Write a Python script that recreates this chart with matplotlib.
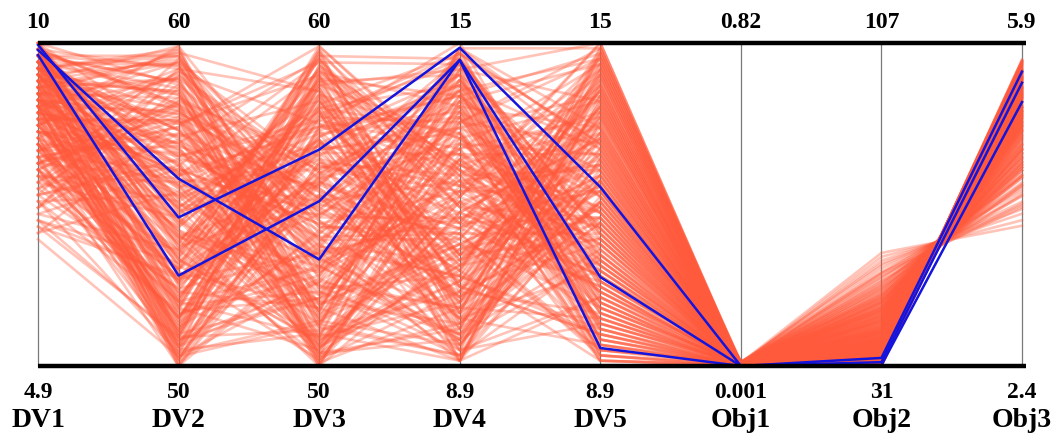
"""Parallel coordinates plot of design variables and objectives."""
import numpy as np, matplotlib
matplotlib.use('Agg')
import matplotlib.pyplot as plt

# axis names and their range labels (bottom = min, top = max)
axis_names = ['DV1', 'DV2', 'DV3', 'DV4', 'DV5', 'Obj1', 'Obj2', 'Obj3']
axis_min = [4.9, 50, 50, 8.9, 8.9, 0.001, 31, 2.4]
axis_max = [10, 60, 60, 15, 15, 0.82, 107, 5.9]
min_labels = ['4.9', '50', '50', '8.9', '8.9', '0.001', '31', '2.4']
max_labels = ['10', '60', '60', '15', '15', '0.82', '107', '5.9']

# all solutions (red)
dv1 = [9.6, 8.4, 9.9, 7.8, 9.2, 8.9, 9.7, 8.1, 9.4, 10.0, 8.6, 9.1,
       7.3, 9.8, 8.8, 9.5, 8.3, 9.0, 9.9, 7.6, 9.3, 8.7, 9.6, 8.0,
       9.7, 8.5, 9.2, 10.0, 7.9, 9.4, 8.9, 9.8, 8.2, 9.1, 7.0, 9.5,
       8.6, 9.9, 9.3, 8.4, 7.5, 9.7, 9.0, 8.8, 9.6, 8.1, 10.0, 9.2,
       9.4, 7.7, 9.8, 8.5, 9.1, 9.9, 8.3, 9.5, 8.0, 9.7, 6.9, 9.3,
       8.7, 9.6, 9.0, 8.2, 9.8, 7.4, 9.4, 8.9, 10.0, 8.6, 9.2, 9.7,
       9.1, 8.4, 9.9, 7.8, 9.5, 8.8, 9.3, 8.1, 9.6, 7.2, 9.8, 8.5,
       9.0, 9.7, 8.3, 9.4, 7.6, 9.9, 8.7, 9.2, 8.0, 9.6, 9.1, 8.9,
       9.8, 8.2, 9.5, 7.1, 9.3, 8.6, 10.0, 9.0, 8.4, 9.7, 7.9, 9.4,
       8.8, 9.6, 9.1, 8.3, 9.9, 7.5, 9.2, 8.7, 9.5, 8.1, 9.8, 9.0,
       9.5, 9.9, 8.2, 9.3, 7.7, 9.8, 8.6, 9.1, 9.6, 8.0, 9.4, 9.7,
       8.9, 7.2, 9.2, 9.9, 8.4, 9.6, 8.7, 9.0, 7.9, 9.5, 9.8, 8.3,
       9.1, 8.8, 10.0, 7.4, 9.3, 8.5, 9.7, 9.0, 8.1, 9.6, 8.9, 9.4,
       7.8, 9.9, 9.2, 8.6, 9.5, 8.0, 9.8, 7.0, 9.1, 8.7, 9.6, 9.3,
       8.4, 9.7, 7.6, 9.0, 9.9, 8.2, 9.4, 8.8, 10.0, 8.5, 9.2, 7.3,
       9.6, 8.9, 9.1, 9.8, 8.3, 7.9, 9.5, 9.0, 8.6, 9.7, 8.0, 9.3,
       9.9, 7.5, 9.2, 8.7, 9.6, 8.4, 9.0, 9.8, 7.1, 9.4, 8.8, 9.1,
       8.1, 9.7, 9.3, 7.7, 9.5, 8.5, 9.9, 8.9, 9.2, 8.2, 9.6, 7.4,
       9.0, 9.8, 8.6, 9.4, 8.0, 9.7, 7.8, 9.1, 8.8, 9.5, 9.9, 8.3,
       7.6, 9.3, 8.7, 9.6, 9.0, 8.4, 9.8, 7.2, 9.2, 8.9, 9.5, 8.1]
dv2 = [57.3, 51.8, 59.2, 54.6, 50.4, 56.9, 53.1, 58.7, 52.5, 55.0, 50.9, 57.8,
       53.6, 59.6, 51.2, 55.9, 58.1, 50.2, 54.0, 56.4, 52.0, 59.0, 53.9, 51.5,
       58.4, 55.3, 50.7, 57.0, 52.8, 54.9, 59.8, 51.0, 56.1, 53.4, 57.6, 50.5,
       55.6, 52.2, 58.9, 54.3, 51.7, 56.7, 59.4, 53.0, 50.1, 57.4, 54.8, 52.9,
       51.4, 58.2, 55.2, 50.8, 56.3, 53.7, 59.1, 52.3, 57.9, 54.4, 50.3, 55.7,
       59.9, 53.3, 51.1, 57.2, 54.1, 58.6, 52.6, 56.0, 50.6, 55.4, 53.8, 59.3,
       52.1, 56.6, 58.0, 51.6, 54.7, 57.5, 50.0, 55.8, 59.7, 53.2, 56.8, 51.3,
       54.2, 50.6, 57.7, 59.5, 52.4, 55.1, 51.9, 58.3, 53.5, 56.2, 50.2, 57.1,
       58.8, 52.7, 54.5, 50.9, 59.6, 56.5, 51.8, 55.5, 53.0, 57.3, 52.0, 58.5,
       55.9, 51.0, 56.9, 53.6, 58.1, 50.4, 54.9, 59.2, 52.6, 57.6, 51.5, 54.0,
       54.3, 58.1, 50.7, 56.2, 52.4, 59.3, 51.1, 55.6, 57.9, 53.0, 50.2, 58.6,
       56.0, 52.7, 59.7, 54.9, 51.5, 57.3, 53.8, 50.5, 55.1, 58.4, 52.0, 56.8,
       50.9, 57.6, 54.5, 59.0, 53.3, 51.7, 56.5, 58.9, 52.3, 55.8, 50.1, 57.1,
       59.5, 53.6, 51.3, 56.3, 54.0, 58.2, 50.8, 55.4, 57.7, 52.6, 59.8, 53.9,
       52.9, 56.6, 59.2, 51.0, 55.0, 57.4, 53.1, 50.4, 58.7, 54.6, 51.9, 56.1,
       57.5, 50.0, 54.2, 58.8, 52.1, 55.7, 59.4, 51.4, 56.9, 53.5, 50.6, 58.0,
       51.6, 55.3, 57.8, 53.2, 59.6, 50.3, 54.7, 56.4, 52.8, 58.5, 51.2, 55.9,
       58.3, 52.5, 50.9, 57.0, 54.1, 59.1, 53.7, 51.8, 56.7, 50.0, 55.2, 57.2,
       50.6, 56.0, 53.4, 59.9, 51.5, 54.8, 58.1, 52.2, 57.6, 55.5, 50.3, 53.0,
       56.2, 59.4, 52.7, 54.4, 57.9, 51.1, 55.6, 50.8, 58.9, 53.3, 56.5, 52.0]
dv3 = [52.9, 58.3, 55.1, 50.6, 57.7, 53.4, 59.5, 51.2, 56.0, 54.7, 58.9, 50.3,
       56.5, 51.9, 53.8, 59.1, 50.8, 57.4, 52.2, 55.6, 58.6, 54.1, 50.1, 56.9,
       51.4, 57.2, 59.8, 53.0, 55.3, 50.5, 52.7, 58.0, 54.4, 56.7, 51.1, 59.3,
       50.9, 55.9, 52.4, 57.9, 59.6, 54.0, 51.6, 58.4, 56.2, 53.3, 57.0, 50.2,
       59.0, 53.7, 56.8, 52.1, 50.4, 55.0, 57.5, 51.8, 54.8, 58.8, 52.6, 56.1,
       54.5, 50.7, 58.1, 55.4, 53.1, 51.5, 59.9, 57.3, 55.7, 52.0, 59.2, 53.9,
       57.8, 54.2, 50.0, 52.8, 56.4, 59.4, 53.6, 51.0, 58.5, 56.6, 50.6, 55.2,
       51.3, 58.7, 55.5, 53.2, 57.1, 50.8, 52.3, 54.6, 59.7, 51.7, 56.3, 58.2,
       53.5, 56.9, 51.9, 59.0, 54.3, 57.6, 50.5, 52.5, 55.8, 53.7, 58.9, 50.1,
       57.4, 52.1, 59.5, 50.3, 55.2, 51.4, 57.9, 54.7, 56.0, 53.1, 58.4, 55.6,
       58.0, 51.3, 55.7, 59.4, 53.5, 50.2, 57.1, 52.6, 54.9, 59.8, 56.3, 51.7,
       50.6, 56.4, 53.0, 58.2, 55.8, 52.4, 59.1, 51.0, 57.6, 54.3, 50.9, 55.5,
       57.3, 53.9, 50.4, 56.0, 59.6, 52.1, 54.6, 51.2, 58.7, 55.1, 53.7, 50.0,
       55.4, 59.2, 57.7, 50.7, 52.9, 56.5, 54.1, 51.5, 53.2, 58.9, 50.3, 57.0,
       51.8, 54.8, 58.5, 56.9, 53.3, 59.9, 50.8, 57.4, 55.0, 52.0, 58.3, 54.4,
       59.0, 55.9, 52.5, 50.1, 56.7, 54.0, 51.4, 58.8, 53.6, 57.5, 52.7, 55.2,
       53.1, 50.5, 56.1, 57.8, 51.6, 55.6, 58.1, 52.2, 54.7, 50.9, 59.3, 56.8,
       56.2, 58.6, 51.1, 54.5, 50.0, 53.4, 57.9, 59.7, 52.8, 55.3, 58.4, 51.9,
       54.2, 52.3, 59.5, 50.6, 57.2, 55.7, 53.8, 56.6, 50.4, 58.0, 51.3, 57.0,
       50.2, 56.0, 53.5, 58.7, 51.7, 59.1, 54.9, 52.6, 55.8, 50.9, 57.4, 53.0]
dv4 = [12.6, 9.4, 14.1, 10.8, 13.5, 9.1, 11.7, 14.8, 10.2, 13.0, 12.1, 9.7,
       14.4, 11.2, 9.0, 13.8, 10.5, 12.9, 14.9, 11.5, 9.8, 13.2, 10.0, 12.3,
       9.3, 13.6, 11.9, 14.6, 10.7, 12.0, 9.5, 14.2, 11.1, 13.3, 10.3, 12.7,
       13.9, 10.1, 12.5, 9.2, 14.7, 11.4, 13.1, 9.9, 12.2, 14.0, 10.6, 11.8,
       11.0, 14.5, 9.6, 12.8, 10.9, 13.7, 11.6, 9.0, 14.3, 10.4, 12.4, 13.4,
       10.2, 12.0, 14.8, 11.3, 9.4, 13.5, 12.6, 10.8, 14.1, 9.7, 11.9, 13.0,
       14.6, 9.8, 11.1, 13.8, 12.3, 10.0, 14.9, 11.5, 9.3, 12.9, 10.5, 13.6,
       9.1, 13.2, 10.7, 12.1, 14.4, 11.7, 9.5, 13.9, 10.3, 14.2, 12.5, 11.0,
       12.8, 10.1, 13.3, 9.6, 11.4, 14.7, 12.2, 9.2, 13.1, 10.6, 14.0, 11.8,
       13.7, 11.2, 9.9, 14.5, 10.4, 12.7, 9.0, 13.4, 11.6, 12.4, 10.9, 14.3,
       10.5, 13.9, 11.2, 14.6, 9.4, 12.1, 14.2, 10.0, 13.3, 9.7, 11.8, 14.9,
       12.7, 9.2, 13.6, 11.0, 14.4, 10.6, 12.3, 9.0, 13.0, 11.5, 14.7, 10.2,
       14.0, 11.3, 9.6, 12.9, 10.4, 13.8, 11.7, 9.1, 14.5, 12.4, 10.9, 13.2,
       9.8, 12.6, 14.8, 10.7, 12.0, 9.3, 13.5, 11.1, 14.3, 10.1, 12.8, 9.5,
       13.7, 10.3, 11.6, 14.1, 9.9, 12.5, 10.8, 15.0, 11.4, 13.1, 9.0, 12.2,
       11.9, 14.7, 10.0, 12.9, 13.4, 9.2, 11.0, 14.4, 10.6, 12.6, 14.0, 9.8,
       9.5, 12.3, 13.8, 10.9, 11.2, 14.6, 9.7, 13.0, 11.6, 10.1, 12.7, 14.2,
       12.0, 10.4, 14.9, 9.3, 13.5, 11.8, 10.7, 12.4, 14.5, 9.6, 13.2, 11.3,
       14.1, 9.1, 12.1, 13.6, 10.2, 11.5, 14.8, 10.8, 9.4, 13.3, 12.8, 11.0,
       10.3, 13.9, 11.7, 9.9, 14.3, 12.5, 10.5, 13.7, 9.0, 11.4, 14.0, 12.2]
dv5 = [10.9, 13.6, 9.3, 12.2, 14.7, 11.0, 9.8, 13.1, 12.7, 10.3, 14.2, 11.6,
       9.1, 12.5, 14.0, 10.6, 13.3, 11.9, 9.6, 14.6, 12.0, 10.1, 13.8, 11.3,
       13.0, 9.9, 11.7, 10.4, 14.9, 12.8, 13.5, 9.4, 12.3, 10.8, 14.3, 11.1,
       12.6, 14.4, 10.0, 13.7, 11.4, 9.2, 12.9, 14.8, 10.7, 11.8, 9.5, 13.2,
       14.1, 10.5, 13.9, 11.2, 12.4, 9.7, 14.5, 12.1, 10.2, 13.4, 11.5, 9.0,
       11.9, 9.3, 12.8, 14.0, 10.9, 13.1, 9.8, 11.3, 14.7, 12.6, 10.6, 13.6,
       10.1, 14.2, 11.7, 9.6, 13.3, 12.0, 14.9, 10.4, 12.4, 9.1, 13.8, 11.0,
       13.5, 11.6, 14.4, 10.8, 9.4, 12.2, 11.1, 14.6, 9.9, 13.0, 10.3, 12.9,
       9.2, 12.5, 10.0, 13.9, 14.1, 11.4, 12.7, 9.7, 11.8, 14.8, 10.7, 13.2,
       12.3, 10.5, 14.5, 9.5, 11.2, 13.4, 10.2, 12.1, 14.3, 9.0, 13.7, 11.5,
       14.0, 9.6, 12.5, 10.2, 13.3, 15.0, 11.0, 12.9, 9.2, 14.4, 10.7, 13.0,
       11.5, 14.8, 9.9, 12.3, 10.4, 13.6, 11.8, 14.2, 9.0, 12.7, 10.9, 14.6,
       12.1, 10.0, 14.9, 11.2, 9.5, 13.4, 10.6, 12.8, 15.0, 9.8, 11.6, 13.9,
       9.3, 11.9, 13.1, 14.7, 10.3, 12.4, 9.7, 14.1, 11.3, 13.7, 10.8, 12.0,
       10.1, 13.2, 11.7, 9.4, 14.5, 12.6, 13.8, 10.5, 9.1, 11.4, 14.3, 12.2,
       13.5, 11.1, 9.8, 12.9, 14.0, 10.2, 13.3, 12.1, 9.6, 11.0, 14.8, 10.7,
       12.5, 14.4, 10.0, 13.0, 9.2, 11.5, 12.3, 14.6, 10.4, 13.6, 11.8, 9.9,
       11.2, 9.5, 13.4, 12.8, 14.9, 10.6, 9.0, 12.7, 13.9, 11.6, 10.9, 14.2,
       9.7, 12.0, 14.7, 10.3, 11.9, 13.1, 10.8, 14.1, 12.4, 9.3, 13.7, 11.3,
       13.8, 10.1, 12.6, 11.7, 9.4, 14.5, 12.2, 10.5, 13.2, 11.4, 9.1, 15.0]
obj1 = [0.002, 0.006, 0.001, 0.009, 0.003, 0.012, 0.004, 0.001, 0.007, 0.002, 0.010, 0.005,
        0.001, 0.008, 0.003, 0.011, 0.002, 0.006, 0.001, 0.004, 0.009, 0.002, 0.013, 0.003,
        0.005, 0.001, 0.007, 0.002, 0.010, 0.004, 0.001, 0.008, 0.003, 0.006, 0.002, 0.011,
        0.004, 0.001, 0.009, 0.002, 0.005, 0.012, 0.003, 0.001, 0.007, 0.004, 0.002, 0.010,
        0.001, 0.006, 0.003, 0.008, 0.002, 0.005, 0.001, 0.011, 0.004, 0.002, 0.007, 0.003,
        0.009, 0.001, 0.005, 0.002, 0.012, 0.003, 0.006, 0.001, 0.004, 0.008, 0.002, 0.010,
        0.003, 0.007, 0.001, 0.005, 0.002, 0.009, 0.004, 0.001, 0.011, 0.003, 0.006, 0.002,
        0.008, 0.001, 0.004, 0.010, 0.002, 0.005, 0.003, 0.001, 0.007, 0.002, 0.012, 0.004,
        0.001, 0.006, 0.003, 0.009, 0.002, 0.005, 0.001, 0.008, 0.004, 0.002, 0.010, 0.003,
        0.006, 0.001, 0.011, 0.002, 0.004, 0.007, 0.001, 0.003, 0.009, 0.002, 0.005, 0.001,
        0.004, 0.001, 0.008, 0.002, 0.011, 0.003, 0.006, 0.001, 0.009, 0.005, 0.002, 0.013,
        0.003, 0.007, 0.001, 0.010, 0.004, 0.002, 0.008, 0.001, 0.006, 0.012, 0.003, 0.005,
        0.001, 0.009, 0.002, 0.007, 0.004, 0.011, 0.001, 0.003, 0.006, 0.002, 0.010, 0.004,
        0.008, 0.002, 0.005, 0.001, 0.012, 0.003, 0.007, 0.002, 0.009, 0.001, 0.004, 0.006,
        0.002, 0.010, 0.001, 0.005, 0.003, 0.008, 0.002, 0.011, 0.001, 0.006, 0.004, 0.009,
        0.001, 0.003, 0.007, 0.002, 0.005, 0.012, 0.001, 0.004, 0.008, 0.002, 0.006, 0.003,
        0.010, 0.002, 0.005, 0.001, 0.009, 0.004, 0.007, 0.002, 0.003, 0.011, 0.001, 0.006,
        0.002, 0.008, 0.004, 0.001, 0.005, 0.010, 0.003, 0.007, 0.001, 0.004, 0.002, 0.009,
        0.006, 0.001, 0.012, 0.003, 0.005, 0.002, 0.008, 0.001, 0.004, 0.007, 0.003, 0.010,
        0.002, 0.005, 0.001, 0.009, 0.003, 0.006, 0.002, 0.011, 0.004, 0.001, 0.008, 0.003]
obj2 = [32.4, 38.7, 34.1, 44.6, 31.5, 41.3, 36.2, 47.9, 33.0, 39.8, 31.9, 43.2,
        35.5, 52.7, 37.4, 31.2, 42.0, 34.8, 45.9, 32.7, 40.5, 36.9, 49.6, 33.6,
        38.1, 31.6, 44.0, 35.0, 41.8, 32.1, 46.8, 37.9, 34.3, 55.8, 39.2, 31.3,
        42.9, 36.0, 48.4, 33.3, 40.1, 35.8, 44.9, 31.8, 38.4, 32.9, 50.8, 37.0,
        34.6, 43.7, 31.4, 39.5, 36.5, 46.2, 33.1, 41.0, 35.2, 53.9, 38.0, 32.0,
        42.5, 34.0, 47.3, 36.7, 31.1, 40.8, 33.8, 45.4, 37.6, 32.5, 43.9, 35.3,
        51.5, 39.0, 31.7, 41.6, 34.4, 48.9, 36.3, 32.8, 44.3, 37.2, 56.7, 38.9,
        31.0, 42.2, 35.6, 46.5, 33.4, 40.3, 36.8, 50.1, 32.2, 39.7, 34.9, 45.0,
        31.5, 43.4, 37.7, 54.6, 33.7, 41.4, 35.9, 47.6, 32.3, 38.6, 31.2, 44.1,
        36.1, 49.2, 33.5, 40.7, 34.7, 52.2, 37.3, 31.9, 42.7, 35.1, 46.0, 39.3,
        33.9, 37.8, 31.4, 42.4, 35.7, 46.1, 32.6, 39.4, 34.5, 44.8, 31.8, 38.2,
        36.6, 49.9, 33.2, 41.1, 35.4, 31.3, 43.5, 37.1, 32.0, 47.7, 34.2, 40.2,
        36.4, 31.6, 45.7, 38.8, 33.5, 53.1, 35.1, 42.8, 32.4, 39.9, 31.2, 44.2,
        36.9, 34.0, 48.6, 37.5, 31.9, 41.9, 35.9, 33.0, 45.3, 38.5, 32.1, 51.0,
        36.2, 40.6, 34.8, 31.5, 43.0, 37.3, 33.3, 46.9, 35.5, 39.1, 32.3, 57.6,
        36.0, 41.7, 31.1, 44.5, 34.1, 38.3, 32.8, 49.3, 35.8, 40.0, 33.6, 47.2,
        31.7, 37.7, 42.1, 34.7, 36.4, 52.9, 32.2, 39.6, 35.0, 43.8, 31.4, 38.0,
        33.9, 45.6, 36.7, 41.2, 32.9, 50.4, 34.3, 37.0, 31.0, 43.3, 35.6, 39.7,
        33.1, 48.1, 36.3, 42.6, 31.8, 38.9, 34.6, 46.4, 32.5, 40.4, 37.4, 55.1,
        33.7, 44.7, 35.2, 31.3, 41.5, 36.8, 32.7, 47.0, 38.6, 34.4, 51.9, 39.2]
obj3 = [5.66, 5.04, 5.52, 4.62, 5.70, 5.10, 5.18, 4.60, 5.41, 5.15, 5.52, 4.75,
        5.44, 4.30, 5.15, 5.72, 5.01, 5.31, 4.74, 5.47, 4.93, 5.35, 4.35, 5.58,
        5.10, 5.55, 4.88, 5.30, 4.85, 5.65, 4.52, 5.27, 5.36, 4.05, 5.02, 5.59,
        4.95, 5.25, 4.58, 5.43, 5.14, 5.40, 4.66, 5.68, 5.08, 5.46, 4.25, 5.33,
        5.34, 4.90, 5.57, 5.17, 5.21, 4.71, 5.60, 4.91, 5.45, 4.18, 5.12, 5.53,
        4.80, 5.51, 4.64, 5.20, 5.71, 5.08, 5.39, 4.61, 5.29, 5.49, 4.71, 5.30,
        4.37, 5.20, 5.54, 5.03, 5.49, 4.39, 5.37, 5.61, 4.84, 5.16, 3.98, 5.05,
        5.62, 4.99, 5.27, 4.55, 5.56, 4.96, 5.34, 4.46, 5.51, 5.00, 5.47, 4.80,
        5.68, 4.76, 5.13, 4.14, 5.40, 5.04, 5.26, 4.48, 5.64, 5.22, 5.58, 4.70,
        5.38, 4.52, 5.42, 5.09, 5.33, 4.16, 5.31, 5.66, 4.79, 5.46, 4.58, 5.18,
        5.38, 5.29, 5.69, 4.97, 5.26, 4.57, 5.61, 5.01, 5.50, 4.81, 5.54, 5.25,
        5.20, 4.47, 5.57, 4.90, 5.43, 5.58, 4.74, 5.33, 5.67, 4.46, 5.37, 5.12,
        5.22, 5.68, 4.75, 5.06, 5.55, 4.24, 5.31, 4.95, 5.50, 5.13, 5.71, 4.69,
        5.34, 5.39, 4.55, 5.15, 5.66, 4.86, 5.40, 5.45, 4.78, 5.08, 5.64, 4.27,
        5.38, 4.94, 5.47, 5.56, 4.93, 5.16, 5.57, 4.52, 5.28, 5.19, 5.51, 3.92,
        5.25, 5.02, 5.60, 4.67, 5.52, 5.10, 5.62, 4.36, 5.41, 4.98, 5.42, 4.65,
        5.69, 5.13, 4.99, 5.35, 5.36, 4.12, 5.52, 5.16, 5.32, 4.88, 5.70, 5.11,
        5.53, 4.61, 5.20, 5.05, 5.47, 4.44, 5.37, 5.32, 5.60, 4.75, 5.42, 5.00,
        5.58, 4.44, 5.23, 4.96, 5.53, 5.20, 5.48, 4.55, 5.63, 5.11, 5.16, 4.10,
        5.41, 4.82, 5.30, 5.70, 4.87, 5.35, 5.48, 4.66, 5.07, 5.50, 4.33, 5.04]

# selected solutions (blue)
sel_dv1 = [9.89, 9.97, 9.81]
sel_dv2 = [55.8, 54.6, 52.8]
sel_dv3 = [53.3, 56.7, 55.1]
sel_dv4 = [14.68, 14.91, 14.68]
sel_dv5 = [10.58, 12.28, 9.24]
sel_obj1 = [0.001, 0.001, 0.001]
sel_obj2 = [31.9, 32.9, 31.2]
sel_obj3 = [5.47, 5.59, 5.26]

lo = np.array(axis_min)
hi = np.array(axis_max)
all_sol = np.column_stack([dv1, dv2, dv3, dv4, dv5, obj1, obj2, obj3])
sel_sol = np.column_stack([sel_dv1, sel_dv2, sel_dv3, sel_dv4, sel_dv5,
                           sel_obj1, sel_obj2, sel_obj3])
all_n = (all_sol - lo) / (hi - lo)
sel_n = (sel_sol - lo) / (hi - lo)
xs = np.arange(len(axis_names))

plt.rcParams['font.family'] = 'Liberation Serif'
plt.rcParams['font.weight'] = 'bold'

fig = plt.figure(figsize=(10.55, 4.37), dpi=100)
ax = fig.add_axes([38 / 1055, 71 / 437, 984 / 1055, 323 / 437])
ax.set_xlim(0, 7)
ax.set_ylim(0, 1)
ax.axis('off')

for x in xs:
    ax.plot([x, x], [0, 1], color='#7a7a7a', lw=0.9, zorder=1, clip_on=False)

for row in all_n:
    ax.plot(xs, row, color='#ff5a3c', lw=1.9, alpha=0.36, zorder=2, clip_on=False)

for row in sel_n:
    ax.plot(xs, row, color='#1414dc', lw=1.8, zorder=3, clip_on=False)

ax.plot([0, 7.03], [1, 1], color='black', lw=3.2, zorder=4, clip_on=False, solid_capstyle='butt')
ax.plot([0, 7.03], [0, 0], color='black', lw=3.2, zorder=4, clip_on=False, solid_capstyle='butt')

for x, name, lab_lo, lab_hi in zip(xs, axis_names, min_labels, max_labels):
    ax.text(x, 1.065, lab_hi, ha='center', va='center', fontsize=17, fontweight='bold')
    ax.text(x, -0.082, lab_lo, ha='center', va='center', fontsize=17, fontweight='bold')
    ax.text(x, -0.168, name, ha='center', va='center', fontsize=20, fontweight='bold')

fig.savefig('out.png', dpi=100)
